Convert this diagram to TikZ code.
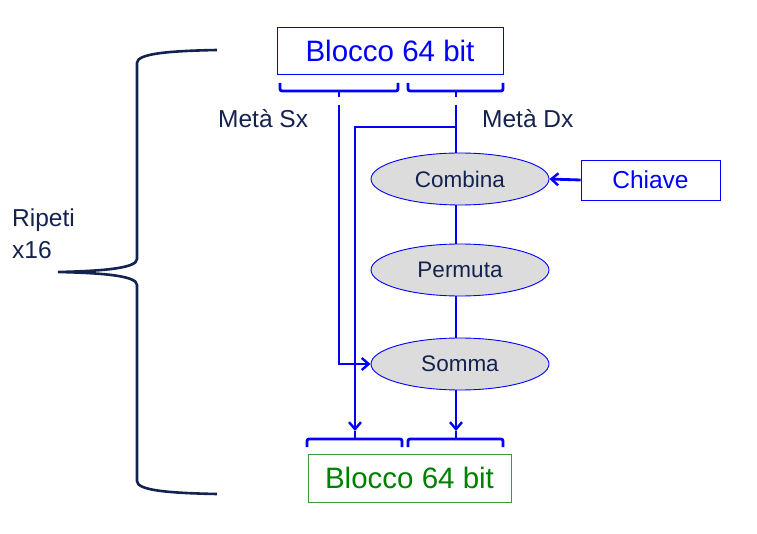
\documentclass[tikz,border=0pt]{standalone}
\usepackage{fontspec}
\setmainfont{Liberation Sans}
\usetikzlibrary{arrows.meta,shapes.geometric}
\definecolor{navy}{HTML}{14224F}
\definecolor{pureblue}{HTML}{0000FF}
\definecolor{dgreen}{HTML}{008000}
\definecolor{lgreen}{HTML}{3C9A3C}
\definecolor{ellfill}{HTML}{DCDCDC}
\tikzset{
  wire/.style={draw=pureblue, line width=2.8pt},
  arr/.style={wire, -{Straight Barb[length=7pt,width=12pt,line width=2.4pt]}},
  oval/.style={ellipse, draw=pureblue, line width=0.9pt, fill=ellfill, minimum width=178pt, minimum height=52pt, inner sep=0pt, text=navy, font=\fontsize{22.5}{25}\selectfont},
  lbl/.style={text=navy, font=\fontsize{24.5}{28}\selectfont, inner sep=0pt},
  bigbox/.style={draw, line width=0.9pt, inner sep=0pt, font=\fontsize{29.5}{32}\selectfont},
  brace/.style={draw=navy, line width=2.6pt}
}
\begin{document}
\begin{tikzpicture}[x=1pt,y=-1pt]
\useasboundingbox (0,0) rectangle (757,534);
% boxes
\node[bigbox, draw=pureblue, text=pureblue, minimum width=226pt, minimum height=47pt] (top) at (390,50.5) {Blocco 64 bit};
\node[bigbox, draw=lgreen, text=dgreen, minimum width=203pt, minimum height=48pt] (bot) at (409.5,478) {Blocco 64 bit};
\node[draw=pureblue, line width=0.9pt, text=pureblue, font=\fontsize{24.5}{28}\selectfont, minimum width=139pt, minimum height=40pt, inner sep=0pt] (chiave) at (650.5,180) {Chiave};
% ellipses
\node[oval] (combina) at (460,179) {Combina};
\node[oval] (permuta) at (460,270) {Permuta};
\node[oval] (somma) at (460,364) {Somma};
% labels
\node[lbl, anchor=west] (sx) at (218,119) {Metà Sx};
\node[lbl, anchor=west] (dx) at (482,119) {Metà Dx};
\node[lbl, anchor=west, align=left, font=\fontsize{24.5}{32}\selectfont] (rip) at (12,234) {Ripeti\\x16};
% brackets top
\coordinate (tsl) at (339,97);
\coordinate (tdr) at (456,97);
\draw[wire, rounded corners=2pt] (280,83) -- (280,91) -- (398,91) -- (398,83);
\draw[wire] (339,91) -- (tsl);
\draw[wire, rounded corners=2pt] (408,83) -- (408,91) -- (503,91) -- (503,83);
\draw[wire] (456,91) -- (tdr);
% brackets bottom
\coordinate (bsl) at (355,431);
\coordinate (bdr) at (456,431);
\draw[wire, rounded corners=2pt] (307,447) -- (307,439) -- (402,439) -- (402,447);
\draw[wire] (355,439) -- (bsl);
\draw[wire, rounded corners=2pt] (408,447) -- (408,439) -- (503,439) -- (503,447);
\draw[wire] (456,439) -- (bdr);
% wires
\coordinate (sxs) at (339,105);
\coordinate (dxs) at (456,105);
\coordinate (br) at (456,127);
\draw[arr] (sxs) -- (339,364) -- (somma.west);
\draw[wire] (dxs) -- (dxs |- combina.north);
\draw[arr] (br) -- (355,127) -- (bsl);
\draw[wire] (dxs |- combina.south) -- (dxs |- permuta.north);
\draw[wire] (dxs |- permuta.south) -- (dxs |- somma.north);
\draw[arr] (dxs |- somma.south) -- (bdr);
\draw[arr] (chiave.west) -- (combina.east);
% brace
\draw[brace] (217,50) .. controls (165,51) and (137,54) .. (137,63) -- (137,259)
  .. controls (137,268) and (105,271) .. (58,272)
  .. controls (105,273) and (137,276) .. (137,285) -- (137,481)
  .. controls (137,490) and (165,493) .. (217,494);
\end{tikzpicture}
\end{document}
